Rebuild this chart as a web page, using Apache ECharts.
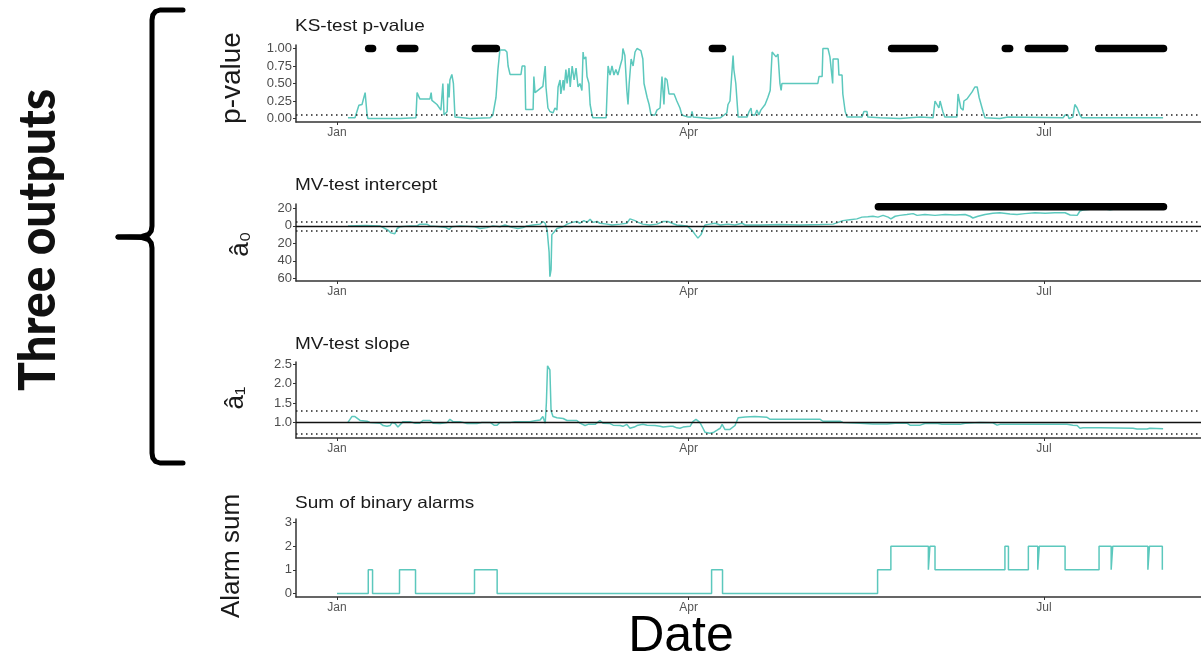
<!DOCTYPE html>
<html><head><meta charset="utf-8">
<script src="https://cdn.jsdelivr.net/npm/echarts@6/dist/echarts.min.js"></script>
<style>html,body{margin:0;padding:0;background:#fff}#c{width:1201px;height:657px}</style>
</head><body><div id="c"></div><script>
// ---------- data (x = days since 1 Jan) ----------
const monthTickDays = [0, 90, 181];
const monthTickLabels = ['Jan', 'Apr', 'Jul'];
const pTicks = [0, 0.25, 0.5, 0.75, 1];
const interceptTicks = [-60, -40, -20, 0, 20];
const slopeTicks = [1.0, 1.5, 2.0, 2.5];
const alarmTicks = [0, 1, 2, 3];

const panelTitles = ['KS-test p-value', 'MV-test intercept', 'MV-test slope', 'Sum of binary alarms'];
const panelYNames = ['p-value', 'â₀', 'â₁', 'Alarm sum'];

const pDays = [2.8,4.6,5.1,5.6,6.4,6.9,7.2,7.6,7.7,7.9,11.0,16.1,20.2,20.5,21.2,23.8,24.1,24.3,25.6,26.6,27.1,27.4,27.9,28.2,28.4,28.7,28.9,29.4,29.8,30.2,30.5,34.1,39.2,39.9,40.7,41.2,41.7,42.2,43.0,43.5,43.8,44.3,47.1,47.4,48.1,48.3,50.2,50.4,50.7,52.7,53.3,53.5,54.0,54.5,55.3,55.8,56.3,56.6,57.1,57.3,57.9,58.1,58.6,58.9,59.4,59.7,60.2,60.7,61.2,61.7,62.2,62.7,63.0,63.2,63.7,64.0,64.5,64.8,65.3,65.5,68.9,69.4,69.9,70.4,70.9,71.4,71.9,72.5,73.0,73.2,73.7,74.2,74.5,74.8,75.3,75.8,76.3,76.8,77.8,78.3,78.6,79.4,79.9,80.4,81.4,81.9,82.7,83.2,83.7,84.0,84.5,85.0,86.3,87.0,87.8,88.3,89.9,90.6,90.9,91.2,95.5,98.1,99.1,99.8,100.1,100.6,101.4,101.6,102.1,102.7,105.0,105.5,106.0,106.2,107.0,107.5,108.0,108.5,109.0,109.6,110.3,110.9,111.4,111.9,112.4,112.9,113.4,113.7,113.9,123.1,123.4,124.2,124.4,125.7,126.2,126.7,126.9,127.0,128.3,128.5,129.3,129.5,130.1,130.6,134.4,134.9,135.7,135.9,139.0,144.1,149.3,152.6,153.1,153.6,154.1,154.4,154.9,155.1,155.6,158.7,159.0,159.5,159.7,160.3,160.5,161.3,161.8,162.6,163.3,163.9,164.4,164.9,165.4,165.9,169.7,171.8,172.0,185.9,186.4,187.1,187.4,188.4,188.9,189.5,190.2,190.7,211.5];
const pValues = [0.01,0.01,0.02,0.19,0.2,0.22,0.37,0.37,0.05,0.0,0.0,0.0,0.01,0.37,0.28,0.28,0.37,0.26,0.2,0.12,0.5,0.05,0.03,0.1,0.5,0.3,0.55,0.63,0.5,0.02,0.0,0.0,0.01,0.05,0.3,0.7,0.98,1.0,0.98,0.95,0.75,0.63,0.63,0.75,0.75,0.13,0.13,0.6,0.37,0.46,0.75,0.45,0.15,0.1,0.08,0.15,0.12,0.45,0.55,0.35,0.55,0.4,0.7,0.5,0.72,0.45,0.75,0.55,0.72,0.45,0.5,0.4,0.95,0.85,0.88,0.6,0.5,0.2,0.05,0.01,0.01,0.75,0.62,0.75,0.62,0.7,0.62,0.75,0.85,1.0,0.9,0.4,0.2,0.5,0.85,0.75,0.95,1.0,0.97,0.85,0.5,0.3,0.2,0.05,0.05,0.12,0.15,0.6,0.2,0.58,0.55,0.35,0.35,0.25,0.15,0.05,0.02,0.02,0.1,0.02,0.0,0.01,0.05,0.08,0.2,0.25,0.9,0.7,0.5,0.02,0.02,0.1,0.15,0.05,0.05,0.12,0.05,0.12,0.1,0.2,0.3,0.4,0.95,0.95,0.88,0.92,0.5,0.4,0.5,0.5,0.6,0.6,1.0,1.0,0.88,0.88,0.5,0.85,0.85,0.62,0.62,0.35,0.1,0.02,0.02,0.1,0.1,0.02,0.01,0.0,0.02,0.01,0.25,0.25,0.15,0.25,0.25,0.1,0.02,0.02,0.35,0.35,0.15,0.12,0.25,0.28,0.3,0.38,0.45,0.45,0.3,0.2,0.1,0.01,0.0,0.02,0.0,0.01,0.05,0.05,0.0,0.02,0.2,0.15,0.05,0.01,0.01];

const ksAlarmStart = [8.1, 16.2, 35.4, 96.1, 142.0, 171.1, 177.0, 195.0];
const ksAlarmEnd   = [9.1, 19.9, 40.8, 98.7, 153.0, 172.2, 186.3, 211.6];

const interceptDays = [2.8,7.2,11.0,13.1,13.8,14.3,14.8,15.4,16.1,18.7,20.5,21.2,23.0,23.8,26.4,27.9,28.7,29.4,31.5,35.3,36.6,38.4,39.9,41.7,43.0,44.3,45.1,46.3,47.6,48.6,50.2,52.0,52.7,53.3,53.8,54.3,54.5,54.8,55.0,55.6,56.3,57.9,58.9,60.2,61.4,62.2,63.2,64.0,64.8,65.5,66.6,67.3,69.1,70.4,72.5,74.2,75.0,75.5,76.3,77.1,78.3,80.1,81.9,83.5,84.7,85.8,87.0,89.6,90.9,91.7,92.4,93.2,93.7,94.2,95.5,96.8,98.1,100.1,101.9,103.7,104.5,108.3,113.4,118.5,123.7,127.0,128.3,129.5,131.3,133.1,134.4,135.9,137.2,138.5,139.8,141.1,141.8,142.9,144.1,145.9,147.5,148.5,150.5,153.1,155.7,158.2,160.8,162.1,162.8,164.1,165.9,167.9,169.7,172.3,174.1,176.1,178.7,181.3,183.8,186.4,187.7,189.5,190.2,191.0,192.8,195.3,197.9,200.5,203.0,205.6,208.1,211.5];
const interceptValues = [0,0.5,0,-5,-8,-10,-9,-3,-1,0,0,2,2,0,-1,-2,-4,-1,0,-1,-3,-2,0,-1,1,-1,-2,-3,-2,0,1,2,5,3,-5,-30,-58,-50,-10,-7,-3,-1,2,4,5,3,6,4,7.5,4,5,3,2,1,2,3,8,10,6,4,2,1,2,5,5,3,1,0,-5,-10,-14,-10,-4,1,2,3,1,2,1,3,1,1,1.5,1,1.5,2,4,6,7,8,10,10.5,11,10,12,10,8,11,12,13,14,12,13,12,13,12.5,13,11,9,11,13,14.5,15,13.5,13,14,15,14.5,15,15,12.5,12,17,18,19,20,18.5,20,19,21,21,21];
const mvAlarmStart = [138.6];
const mvAlarmEnd = [211.6];

const slopeDays = [2.8,3.8,4.6,5.1,5.9,7.7,8.4,11.0,11.8,12.8,13.6,14.1,14.8,15.6,16.1,16.9,18.7,20.0,21.2,22.0,23.8,24.6,26.4,28.2,28.9,29.7,31.5,33.3,35.8,37.1,39.2,40.2,41.0,41.7,44.3,45.6,49.4,50.7,52.0,52.7,53.3,53.6,53.9,54.3,54.5,54.8,55.3,56.3,57.9,58.9,61.4,62.2,63.5,64.3,64.8,66.1,67.3,68.1,69.9,70.7,72.5,73.2,74.2,75.0,75.5,76.1,76.8,78.3,79.4,81.4,82.7,83.5,85.3,86.0,87.0,87.8,88.6,90.4,91.1,91.9,92.9,93.7,94.2,95.5,96.3,97.3,98.1,98.6,98.8,99.3,100.6,101.9,102.7,104.5,107.0,110.1,110.9,116.0,123.7,124.4,128.8,129.5,133.9,137.2,140.8,142.9,145.9,146.7,149.3,150.5,153.8,154.9,159.5,160.8,164.6,167.9,169.0,169.7,177.4,182.5,186.9,188.4,189.5,190.2,191.0,195.3,203.8,204.8,207.4,208.1,211.5];
const slopeValues = [1.0,1.15,1.15,1.1,1.05,1.03,1.0,0.98,0.92,0.9,0.92,1.0,0.98,0.88,0.88,1.02,1.02,0.98,0.98,1.05,1.05,0.98,0.97,1.0,1.08,1.02,1.02,0.97,0.97,1.0,1.0,0.93,0.93,1.0,1.0,1.02,1.02,1.04,1.06,1.15,0.98,1.5,2.45,2.4,2.35,1.3,1.15,1.12,1.1,1.05,1.05,0.98,0.92,0.95,0.92,0.95,1.05,0.98,0.97,0.93,0.92,0.9,0.95,0.85,0.8,0.88,0.92,0.95,0.93,0.92,0.9,0.88,0.9,0.9,0.86,0.85,0.88,0.9,1.02,1.08,1.0,0.85,0.75,0.72,0.74,0.8,0.85,0.95,0.9,0.82,0.82,0.92,1.12,1.14,1.15,1.13,1.08,1.08,1.08,1.03,1.03,1.0,0.98,0.96,0.96,0.98,0.98,0.93,0.93,0.97,0.97,0.95,0.95,0.98,1.0,0.99,0.93,0.95,0.95,0.95,0.95,0.93,0.92,0.85,0.86,0.86,0.85,0.83,0.83,0.85,0.84];

const alarmDays = [0,8,9.1,16,20.1,35.2,41,95.9,98.7,138.4,141.8,151.4,151.8,153.1,171,171.9,177,179.4,179.8,186.4,195.1,198.2,198.6,207.6,208,211.3];
const alarmValues = [0,1,0,1,0,1,0,1,0,1,2,1,2,1,2,1,2,1,2,1,2,1,2,1,2,1];

const pThreshold = [0.05];
const interceptRef = [0];
const interceptBand = [-5, 5];
const slopeRef = [1];
const slopeBand = [0.7, 1.3];

// ---------- chart ----------
const FONT = "'Liberation Sans', Arial, sans-serif";
const TEAL = '#5cc8bd';
const X_MIN = -10.5, X_MAX = 221.2;
const zip = (a, b) => a.map((d, i) => [d, b[i]]);

const grids = [
  {left: 296, right: 0, top: 45, height: 77},
  {left: 296, right: 0, top: 204, height: 77},
  {left: 296, right: 0, top: 362, height: 76},
  {left: 296, right: 0, top: 519, height: 78}
];

function xAx(i) {
  return {
    type: 'value', gridIndex: i, min: X_MIN, max: X_MAX,
    axisLine: {show: true, onZero: false, lineStyle: {color: '#333', width: 1.5}},
    axisTick: {show: true, customValues: monthTickDays, length: 3, lineStyle: {color: '#333'}},
    axisLabel: {customValues: monthTickDays, formatter: v => monthTickLabels[monthTickDays.indexOf(v)],
      color: '#555', fontSize: 12, margin: 5, fontFamily: FONT},
    splitLine: {show: false}
  };
}
function yAx(i, min, max, ticks, fmt) {
  return {
    type: 'value', gridIndex: i, min: min, max: max,
    axisLine: {show: true, onZero: false, lineStyle: {color: '#333', width: 1.5}},
    axisTick: {show: true, customValues: ticks, length: 3, lineStyle: {color: '#333'}},
    axisLabel: {customValues: ticks, formatter: fmt, color: '#4d4d4d', fontSize: 13, margin: 4, fontFamily: FONT},
    splitLine: {show: false}
  };
}
const dotted = {type: [1.5, 3.5], color: '#222', width: 1.5};
const solid = {type: 'solid', color: '#111', width: 1.3};
function mk(items) {
  return {silent: true, symbol: ['none', 'none'], label: {show: false}, animation: false,
    data: items.map(it => ({yAxis: it[0], lineStyle: it[1]}))};
}
function teal(i, data, extra) {
  return Object.assign({type: 'line', xAxisIndex: i, yAxisIndex: i, data: data, symbol: 'none',
    lineStyle: {color: TEAL, width: 1.5}, itemStyle: {color: TEAL}, z: 3}, extra || {});
}
function bars(i, starts, ends, y) {
  return starts.map((s, k) => ({type: 'line', xAxisIndex: i, yAxisIndex: i, data: [[s, y], [ends[k], y]],
    symbol: 'none', clip: false, z: 6, lineStyle: {color: '#000', width: 7.5, cap: 'round'}}));
}

const titleY = [26, 185, 344, 503];
const nameBox = [[232, 78, 28], [241, 244, 26], [236, 398, 26], [232, 556, 26]];
const titleGraphics = panelTitles.map((t, i) => ({type: 'text', x: 295, y: titleY[i], scaleX: 1.15,
  style: {text: t, fontSize: 16.5, fill: '#1a1a1a', fontFamily: FONT, align: 'left', verticalAlign: 'middle'}}));
const nameGraphics = panelYNames.map((t, i) => ({type: 'text', x: nameBox[i][0], y: nameBox[i][1], rotation: Math.PI / 2,
  style: {text: t, fontSize: nameBox[i][2], fill: '#1a1a1a', fontFamily: FONT, align: 'center', verticalAlign: 'middle'}}));

const option = {
  animation: false,
  backgroundColor: '#fff',
  grid: grids,
  xAxis: [xAx(0), xAx(1), xAx(2), xAx(3)],
  yAxis: [
    yAx(0, -0.05, 1.05, pTicks, v => v.toFixed(2)),
    yAx(1, -63, 25, interceptTicks, v => String(Math.abs(v))),
    yAx(2, 0.6, 2.55, slopeTicks, v => v.toFixed(1)),
    yAx(3, -0.15, 3.15, alarmTicks, v => String(v))
  ],
  series: [
    teal(0, zip(pDays, pValues), {markLine: mk(pThreshold.map(v => [v, dotted]))}),
    ...bars(0, ksAlarmStart, ksAlarmEnd, 1),
    teal(1, zip(interceptDays, interceptValues), {markLine: mk(interceptRef.map(v => [v, solid]).concat(interceptBand.map(v => [v, dotted])))}),
    ...bars(1, mvAlarmStart, mvAlarmEnd, 22),
    teal(2, zip(slopeDays, slopeValues), {markLine: mk(slopeRef.map(v => [v, solid]).concat(slopeBand.map(v => [v, dotted])))}),
    teal(3, zip(alarmDays, alarmValues), {step: 'end'})
  ],
  graphic: [
    ...titleGraphics,
    ...nameGraphics,
    {type: 'text', x: 681, y: 637, style: {text: 'Date', fontSize: 50, fill: '#000', fontFamily: FONT,
      align: 'center', verticalAlign: 'middle'}},
    {type: 'text', x: 38, y: 240, rotation: Math.PI / 2, scaleX: 0.92,
      style: {text: 'Three outputs', fontSize: 52, fontWeight: 900, fill: '#111', fontFamily: "Lato, 'DejaVu Sans', sans-serif",
        align: 'center', verticalAlign: 'middle'}},
    {type: 'polyline', shape: {points: [[183,10],[160,10],[155.5,11.5],[152.8,15],[152,20],[152,226],[151.2,231],[148.5,234.5],[142,236.5],[118,237]]},
      style: {fill: null, stroke: '#000', lineWidth: 5, lineCap: 'round', lineJoin: 'round'}},
    {type: 'polyline', shape: {points: [[118,237],[142,237.5],[148.5,239.5],[151.2,243],[152,248],[152,453],[152.8,458],[155.5,461.5],[160,463],[183,463]]},
      style: {fill: null, stroke: '#000', lineWidth: 5, lineCap: 'round', lineJoin: 'round'}}
  ]
};
const chart = echarts.init(document.getElementById('c'), null, {renderer: 'canvas'});
chart.setOption(option);
</script></body></html>
